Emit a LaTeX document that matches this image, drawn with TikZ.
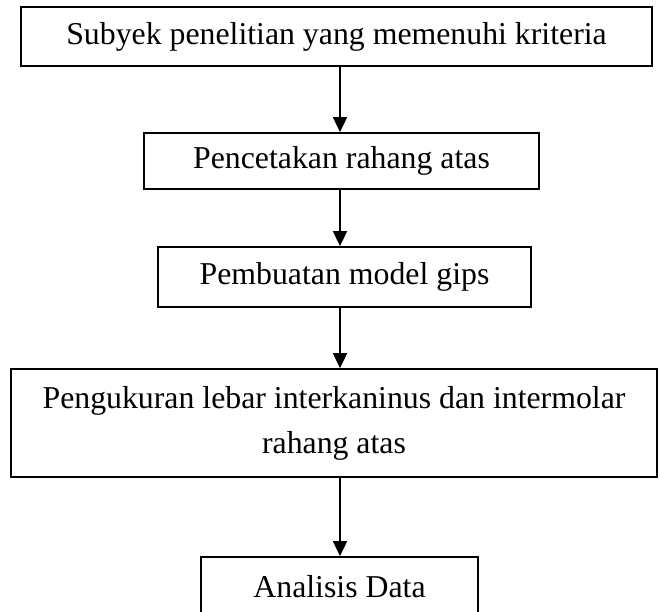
\documentclass[tikz,border=0pt]{standalone}
\usepackage{fontspec}
\setmainfont{Liberation Serif}
\usetikzlibrary{arrows.meta}
\begin{document}
\begin{tikzpicture}[x=1pt,y=-1pt,
  box/.style={draw,line width=1.8pt,rectangle,inner sep=0pt,align=center,font=\fontsize{31.8}{45}\selectfont},
  flow/.style={line width=1.8pt,-{Triangle[length=15pt,width=14pt]}}]
\useasboundingbox (0,0) rectangle (660,611);
\coordinate (axis) at (340,0);
\node[box,minimum width=631pt,minimum height=59pt] (subyek) at (336.5,36.5) {Subyek penelitian yang memenuhi kriteria};
\node[box,minimum width=395pt,minimum height=56pt] (cetak) at (341.5,161) {Pencetakan rahang atas};
\node[box,minimum width=373pt,minimum height=60pt] (gips) at (344.5,277) {Pembuatan model gips};
\node[box,minimum width=646pt,minimum height=108pt] (ukur) at (334,423) {Pengukuran lebar interkaninus dan intermolar\\rahang atas};
\node[box,minimum width=277pt,minimum height=60pt] (analisis) at (339.5,587) {Analisis Data};
\draw[flow] (subyek.south -| axis) -- (cetak.north -| axis);
\draw[flow] (cetak.south -| axis) -- (gips.north -| axis);
\draw[flow] (gips.south -| axis) -- (ukur.north -| axis);
\draw[flow] (ukur.south -| axis) -- (analisis.north -| axis);
\end{tikzpicture}
\end{document}
